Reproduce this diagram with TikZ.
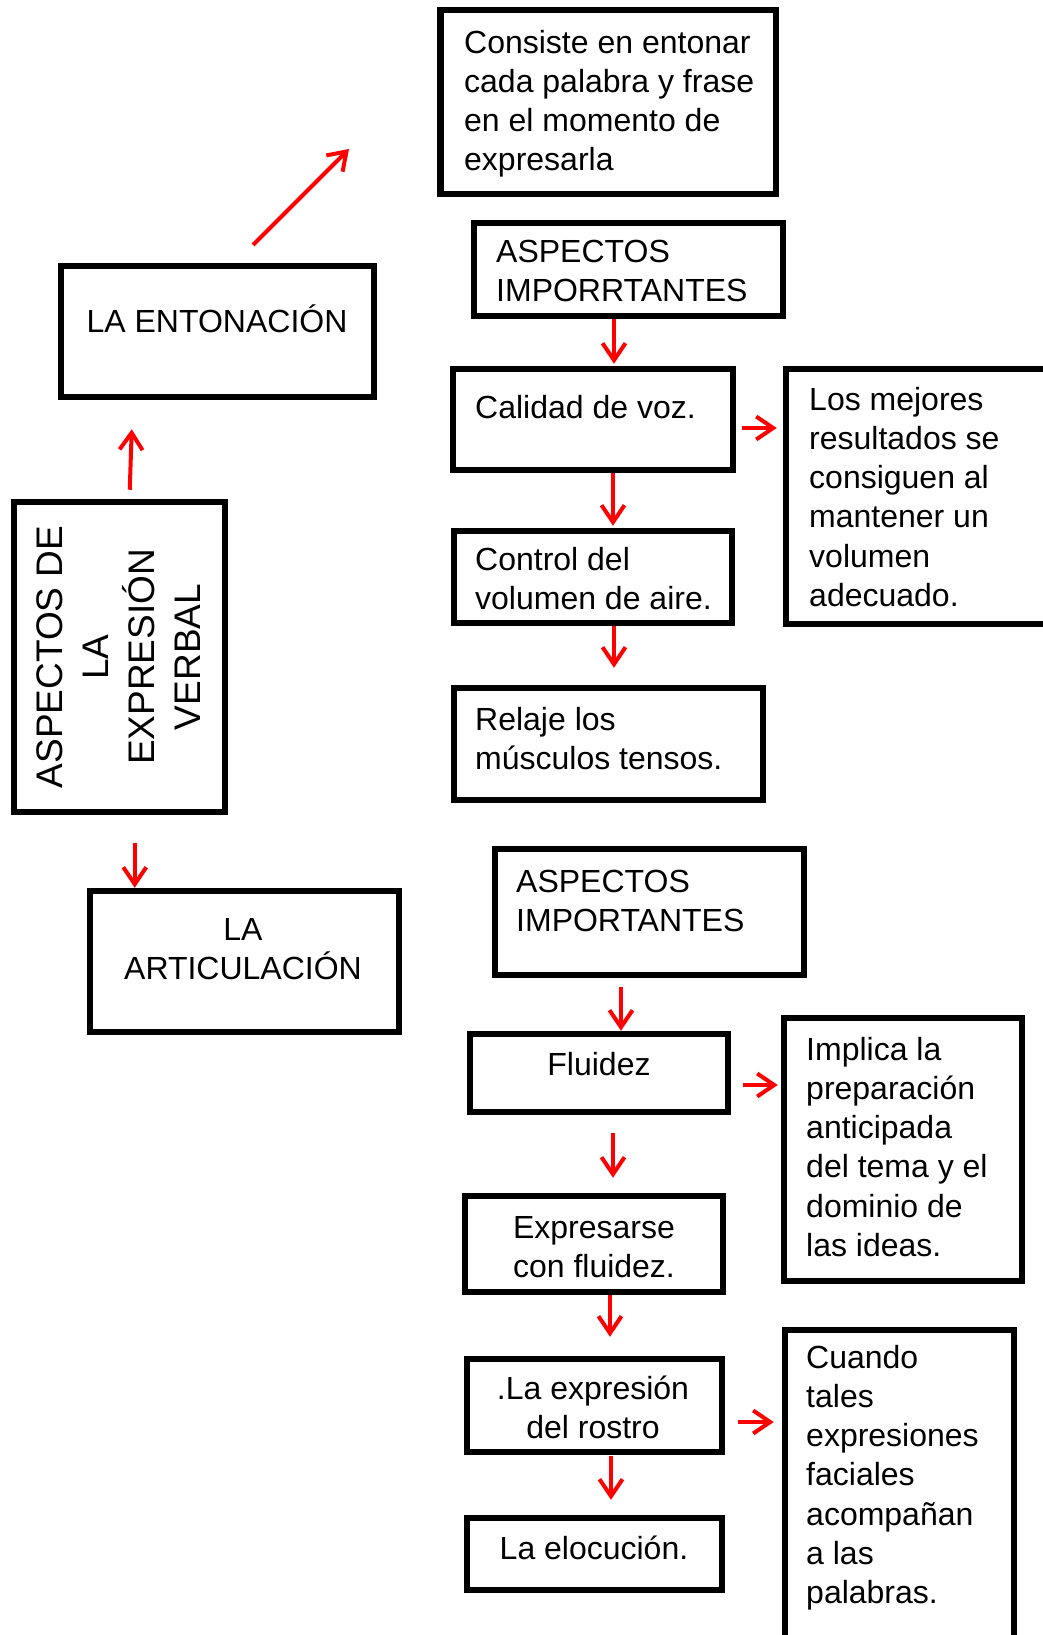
\documentclass[tikz,border=0pt]{standalone}
\usepackage{fontspec}
\setmainfont{Liberation Sans}
\usetikzlibrary{arrows.meta,calc}
\begin{document}
\begin{tikzpicture}[x=1pt,y=-1pt,
  box/.style={draw=black, line width=6.5pt, rectangle, inner sep=0pt},
  txt/.style={font=\fontsize{32}{39.3}\selectfont, inner sep=0pt, align=left, anchor=base west},
  ctxt/.style={font=\fontsize{32}{39.3}\selectfont, inner sep=0pt, align=center, anchor=base},
  arr/.style={draw=red, line width=4pt, -{Straight Barb[length=17pt,width=23pt]}}]
\fill[white] (0,0) rectangle (1043,1635);
\clip (0,0) rectangle (1043,1635);
% boxes
\node[box, minimum width=335.5pt, minimum height=183.5pt] (cons) at (608,102) {};
\node[box, minimum width=309pt, minimum height=93pt] (imp1) at (628.5,269.5) {};
\node[box, minimum width=280pt, minimum height=101pt] (cal) at (593,419.5) {};
\node[box, minimum width=278pt, minimum height=92pt] (ctrl) at (593,577) {};
\node[box, minimum width=309pt, minimum height=112pt] (rel) at (608.5,744) {};
\node[box, minimum width=281pt, minimum height=255pt] (mej) at (926.5,496.5) {};
\node[box, minimum width=211pt, minimum height=310pt] (asp) at (119.5,657) {};
\node[box, minimum width=313pt, minimum height=131pt] (ent) at (217.5,331.5) {};
\node[box, minimum width=309pt, minimum height=141pt] (art) at (244.5,961.5) {};
\node[box, minimum width=309pt, minimum height=126pt] (imp2) at (649.5,912) {};
\node[box, minimum width=258pt, minimum height=78pt] (flu) at (599,1073) {};
\node[box, minimum width=258pt, minimum height=96pt] (expf) at (594,1244) {};
\node[box, minimum width=238pt, minimum height=263pt] (impl) at (903,1149.5) {};
\node[box, minimum width=255pt, minimum height=93pt] (ros) at (594.5,1405.5) {};
\node[box, minimum width=255pt, minimum height=72pt] (elo) at (594.5,1554) {};
\node[box, minimum width=229pt, minimum height=330pt] (cua) at (899.5,1494.75) {};
% texts (anchored at the baseline of their last line)
\node[txt] (tcons) at (464,170.9) {Consiste en entonar\\cada palabra y frase\\en el momento de\\expresarla};
\node[txt] (timp1) at (496,301.3) {ASPECTOS\\IMPORRTANTES};
\node[txt] (tcal) at (475,418) {Calidad de voz.};
\node[txt] (tctrl) at (475,609.3) {Control del\\volumen de aire.};
\node[txt] (trel) at (475,769.3) {Relaje los\\músculos tensos.};
\node[txt] (tmej) at (809,606.5) {Los mejores\\resultados se\\consiguen al\\mantener un\\volumen\\adecuado.};
\node[ctxt] (tent) at (217,332) {LA ENTONACIÓN};
\node[ctxt] (tart) at (243,979.3) {LA\\ARTICULACIÓN};
\node[txt] (timp2) at (516,931.3) {ASPECTOS\\IMPORTANTES};
\node[ctxt] (tflu) at (599,1075) {Fluidez};
\node[ctxt] (texpf) at (594,1277.3) {Expresarse\\con fluidez.};
\node[txt] (timpl) at (806,1256.5) {Implica la\\preparación\\anticipada\\del tema y el\\dominio de\\las ideas.};
\node[ctxt] (tros) at (593,1438.3) {.La expresión\\del rostro};
\node[ctxt] (telo) at (594,1559) {La elocución.};
\node[txt] (tcua) at (806,1603.8) {Cuando\\tales\\expresiones\\faciales\\acompañan\\a las\\palabras.};
\node[rotate=90, font=\fontsize{37}{46}\selectfont, inner sep=0pt, align=center] (tasp) at (119,657) {ASPECTOS DE\\LA\\EXPRESIÓN\\VERBAL};
% connectors
\coordinate (d1) at (253,245);
\coordinate (d2) at (349,149);
\draw[arr] (d1) -- (d2);
\draw[arr] ($(asp.north west)+(119,-9)$) -- ($(ent.south west)+(74,29)$);
\draw[arr] ($(asp.south west)+(124,28)$) -- ($(art.north west)+(48,0)$);
\draw[arr] (imp1.south -| cal.north) ++(21,0) coordinate (a4s) -- ($(cal.north)+(21,-2)$);
\draw[arr] ($(cal.south)+(20,0)$) -- ($(ctrl.north)+(20,-2)$);
\draw[arr] ($(ctrl.south)+(21,0)$) -- ($(rel.north)+(5.5,-17)$);
\draw[arr] ($(cal.east)+(6,8.5)$) -- ($(mej.west)+(-6,-68.5)$);
\draw[arr] ($(imp2.south)+(-28.5,9)$) -- ($(flu.north)+(22,0)$);
\draw[arr] ($(flu.south)+(14,18)$) -- ($(expf.north)+(19,-15)$);
\draw[arr] ($(flu.east)+(12,12)$) -- ($(impl.west)+(-3,-64.5)$);
\draw[arr] ($(expf.south)+(16,0)$) -- ($(ros.north)+(15.5,-19)$);
\draw[arr] ($(ros.south)+(16.5,1)$) -- ($(elo.north)+(16.5,-15)$);
\draw[arr] ($(ros.east)+(13,16.5)$) -- ($(cua.west)+(-8,-72.75)$);
\end{tikzpicture}
\end{document}
